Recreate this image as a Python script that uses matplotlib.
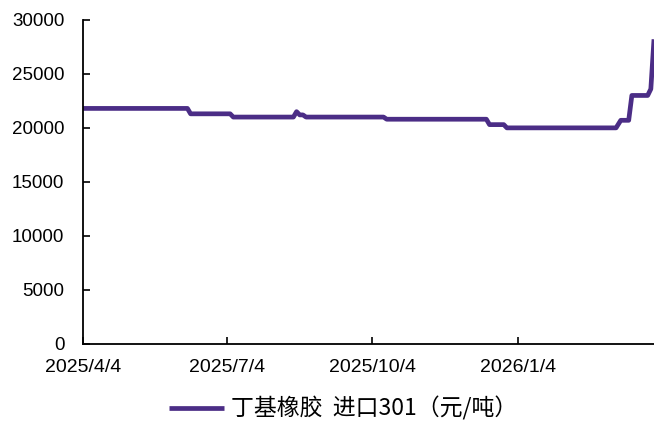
import matplotlib
matplotlib.use("Agg")
import matplotlib.pyplot as plt
import matplotlib.dates as mdates
import pandas as pd

# turning points of the price line (yuan/ton)
dates = ["2025-04-04", "2025-06-09", "2025-06-11", "2025-07-06", "2025-07-08",
         "2025-08-15", "2025-08-17", "2025-08-19", "2025-08-21", "2025-08-23",
         "2025-10-11", "2025-10-13", "2025-12-15", "2025-12-17", "2025-12-26",
         "2025-12-28", "2026-03-07", "2026-03-10", "2026-03-15", "2026-03-17",
         "2026-03-27", "2026-03-29", "2026-03-31"]
values = [21800, 21800, 21300, 21300, 21000,
          21000, 21500, 21200, 21200, 21000,
          21000, 20800, 20800, 20300, 20300,
          20000, 20000, 20700, 20700, 23000,
          23000, 23600, 28200]
xticks = ["2025-04-04", "2025-07-04", "2025-10-04", "2026-01-04"]
yticks = [0, 5000, 10000, 15000, 20000, 25000, 30000]
label = "丁基橡胶  进口301（元/吨）"

x = pd.to_datetime(dates)

fig = plt.figure(figsize=(6.54, 4.22), dpi=100)
ax = fig.add_axes([0.127, 0.185, 0.873, 0.768])
ax.plot(x, values, color="#4B2D86", lw=3.4, label=label, clip_on=False,
        solid_joinstyle="round", solid_capstyle="butt")

ax.set_xlim(x[0], x[-1])
ax.set_ylim(0, 30000)
ax.set_yticks(yticks)
ax.set_xticks(pd.to_datetime(xticks))
ax.xaxis.set_major_formatter(mdates.DateFormatter("%Y/%-m/%-d"))
for s in ["top", "right"]:
    ax.spines[s].set_visible(False)
for s in ["left", "bottom"]:
    ax.spines[s].set_color("black")
    ax.spines[s].set_linewidth(1.3)
    ax.spines[s].set_zorder(3)
ax.tick_params(direction="in", length=5, width=1.2)
ax.tick_params(axis="y", labelsize=13.5, pad=13.5)
ax.tick_params(axis="x", labelsize=14, pad=11)
for t in ax.get_xticklabels() + ax.get_yticklabels():
    t.set_family(["Liberation Sans", "DejaVu Sans"])

leg = fig.legend(loc="center", bbox_to_anchor=(0.525, 0.032), frameon=False,
                 prop={"family": ["Noto Sans CJK SC", "DejaVu Sans"], "size": 16.5},
                 handlelength=2.4, handletextpad=0.3, borderpad=0.2)

fig.savefig("out.png", dpi=100)
